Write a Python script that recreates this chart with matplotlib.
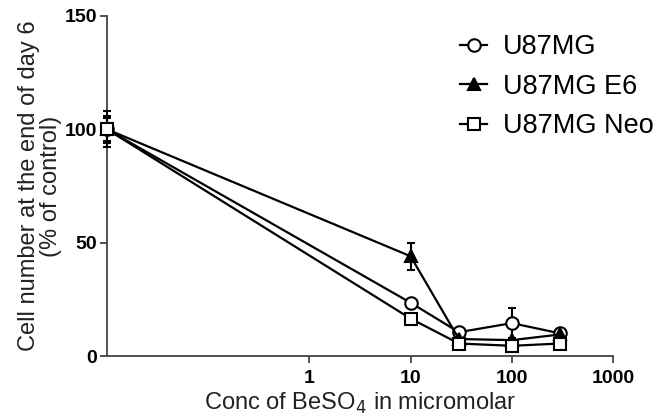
import numpy as np
import matplotlib.pyplot as plt

plt.rcParams['font.family'] = ['Liberation Sans', 'DejaVu Sans']

conc = [0.01, 10, 30, 100, 300]
u87 = [100, 23.5, 10.5, 14.5, 10]
u87_err = [8, 0, 0, 6.5, 0]
e6 = [100, 44, 7.5, 7, 9.5]
e6_err = [6, 6, 0, 0, 0]
neo = [100, 16.5, 5.5, 4.5, 5.5]
neo_err = [5, 0, 0, 0, 0]

series = [
    ('U87MG', u87, u87_err, 'o', 'white'),
    ('U87MG E6', e6, e6_err, '^', 'black'),
    ('U87MG Neo', neo, neo_err, 's', 'white'),
]

fig = plt.figure(figsize=(6.58, 4.19), dpi=100)
ax = fig.add_axes([107 / 658, 63 / 419, 506 / 658, 340 / 419])

for name, vals, err, mk, fc in series:
    ax.errorbar(conc, vals, yerr=err, color='black', lw=1.6, marker=mk,
                markersize=9, markerfacecolor=fc, markeredgecolor='black',
                markeredgewidth=1.5, capsize=3, capthick=1.5, elinewidth=1.5,
                label=name, clip_on=False, zorder=3)

ax.set_xscale('log')
ax.set_xlim(0.01, 1000)
ax.set_ylim(0, 150)
ax.set_xticks([1, 10, 100, 1000])
ax.set_xticklabels(['1', '10', '100', '1000'])
ax.xaxis.set_minor_locator(plt.NullLocator())
ax.set_yticks([0, 50, 100, 150])

for s in ['top', 'right']:
    ax.spines[s].set_visible(False)
for s in ['left', 'bottom']:
    ax.spines[s].set_color('#444444')
    ax.spines[s].set_linewidth(1.3)
ax.tick_params(direction='out', length=5, width=1.3, color='#444444',
               labelsize=14, pad=2)
ax.tick_params(axis='x', pad=5)
for lab in ax.get_xticklabels() + ax.get_yticklabels():
    lab.set_fontweight('bold')

ax.set_xlabel('Conc of BeSO$_4$ in micromolar', fontsize=17, labelpad=3,
              color='#222222')
ax.set_ylabel('Cell number at the end of day 6\n(% of control)', fontsize=17,
              labelpad=2, color='#222222', linespacing=1.0)

handles, labels = ax.get_legend_handles_labels()
handles = [h[0] for h in handles]
fig.legend(handles, labels, loc='upper left',
           bbox_to_anchor=(460 / 658, 1 - 34 / 419), frameon=False,
           fontsize=19.5, handlelength=1.0, handletextpad=0.6,
           labelspacing=0.5, borderaxespad=0, borderpad=0)

fig.savefig('out.png', dpi=100)
